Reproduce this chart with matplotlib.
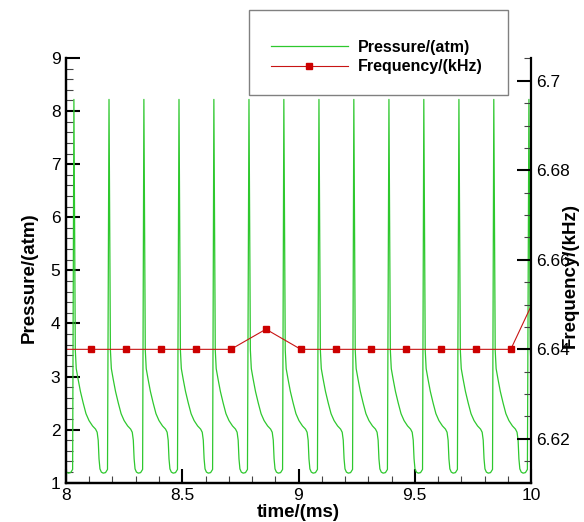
import numpy as np
import matplotlib
matplotlib.use("Agg")
import matplotlib.pyplot as plt
from matplotlib.ticker import MultipleLocator, AutoMinorLocator
from matplotlib.patches import Rectangle

plt.rcParams['font.family'] = ['Liberation Sans', 'DejaVu Sans']

# ---- data ----
# times (ms) of the pressure spikes
spike_times = [7.884, 8.034, 8.185, 8.335, 8.486, 8.636, 8.787, 8.937,
               9.088, 9.238, 9.389, 9.539, 9.690, 9.840, 9.991]
# one pressure cycle after a spike: phase (ms after spike) and pressure (atm)
cycle_phase = [0.000, 0.006, 0.010, 0.018, 0.028, 0.040, 0.052, 0.065,
               0.080, 0.093, 0.100, 0.1045, 0.108, 0.112, 0.118, 0.126,
               0.136, 0.1445]
cycle_pres = [8.22, 3.50, 3.15, 2.95, 2.72, 2.50, 2.30, 2.17,
              2.07, 2.01, 1.95, 1.80, 1.45, 1.26, 1.20, 1.18,
              1.19, 1.25]

freq_time = [7.957, 8.107, 8.258, 8.408, 8.559, 8.709, 8.860, 9.010,
             9.161, 9.311, 9.462, 9.612, 9.763, 9.913, 10.064]
freq_khz = [6.640, 6.640, 6.640, 6.640, 6.640, 6.640, 6.6445, 6.640,
            6.640, 6.640, 6.640, 6.640, 6.640, 6.640, 6.6567]

x_ticks = [8, 8.5, 9, 9.5, 10]
p_ticks = [1, 2, 3, 4, 5, 6, 7, 8, 9]
f_ticks = [6.62, 6.64, 6.66, 6.68, 6.70]
f_ticklabels = ['6.62', '6.64', '6.66', '6.68', '6.7']

# assemble pressure trace from the per-spike cycles
t_list, p_list = [], []
for ts in spike_times:
    for ph, pv in zip(cycle_phase, cycle_pres):
        t_list.append(ts + ph)
        p_list.append(pv)
t_arr = np.array(t_list)
p_arr = np.array(p_list)

W, H = 584, 522
fig = plt.figure(figsize=(W / 100, H / 100), dpi=100)
L, R, T, B = 66, 531, 58, 482.7
ax = fig.add_axes([L / W, (H - B) / H, (R - L) / W, (B - T) / H])
ax2 = ax.twinx()

green = '#2ec82e'
red = '#c81414'
lp, = ax.plot(t_arr, p_arr, color=green, lw=0.9, label='Pressure/(atm)')
lf, = ax2.plot(freq_time, freq_khz, color=red, lw=0.8, marker='s',
               markersize=3.8, markerfacecolor='#cc0000',
               markeredgecolor='#cc0000', label='Frequency/(kHz)')

ax.set_xlim(8, 10)
ax.set_ylim(1, 9)
ax2.set_ylim(6.6102, 6.7051)

ax.set_xticks(x_ticks)
ax.set_xticklabels(['8', '8.5', '9', '9.5', '10'])
ax.set_yticks(p_ticks)
ax.xaxis.set_minor_locator(AutoMinorLocator(5))
ax.yaxis.set_minor_locator(AutoMinorLocator(5))
ax2.set_yticks(f_ticks)
ax2.set_yticklabels(f_ticklabels)
ax2.yaxis.set_minor_locator(MultipleLocator(0.005))

for a in (ax, ax2):
    a.spines['top'].set_visible(False)
    for s in a.spines.values():
        s.set_linewidth(1.6)
ax.spines['right'].set_visible(False)

ax.tick_params(axis='both', which='major', direction='in', length=10,
               width=1.5, labelsize=12.5, pad=4, top=False, right=False)
ax.tick_params(axis='both', which='minor', direction='in', length=5,
               width=0.8, top=False, right=False, color='#444444')
ax2.tick_params(axis='y', which='major', direction='in', length=10,
                width=1.5, labelsize=12.5, pad=4)
ax2.tick_params(axis='y', which='minor', direction='in', length=5,
                width=0.8, color='#444444')

ax.set_xlabel('time/(ms)', fontsize=13.5, fontweight='bold')
ax.set_ylabel('Pressure/(atm)', fontsize=13.5, fontweight='bold')
ax2.set_ylabel('Frequency/(kHz)', fontsize=13.5, fontweight='bold')
ax.yaxis.set_label_coords(-0.060, 0.482)
ax2.yaxis.set_label_coords(1.066, 0.487)
ax.xaxis.set_label_coords(0.5, -0.05)

# legend box (Tecplot style)
box = Rectangle((249 / W, 1 - 95 / H), (508 - 249) / W, (95 - 10) / H,
                transform=fig.transFigure, facecolor='white',
                edgecolor='#808080', linewidth=1.0, zorder=3)
fig.add_artist(box)
leg = fig.legend([lp, lf], ['Pressure/(atm)', 'Frequency/(kHz)'],
                 loc='center left', bbox_to_anchor=(270.7 / W, 1 - 57 / H),
                 bbox_transform=fig.transFigure, frameon=False,
                 prop={'weight': 'bold', 'size': 11.5}, handlelength=4.85,
                 handletextpad=0.6, labelspacing=0.28, borderpad=0,
                 borderaxespad=0, numpoints=1)
leg.set_zorder(5)

fig.savefig('out.png', dpi=100)
